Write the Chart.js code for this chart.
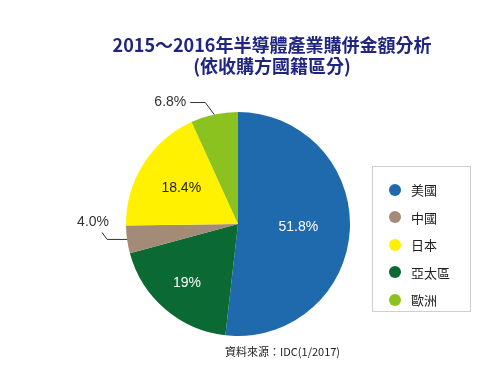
<!DOCTYPE html>
<html>
<head>
<meta charset="utf-8">
<script src="https://cdn.jsdelivr.net/npm/chart.js@4"></script>
<style>
  body { margin: 0; background: #fff; font-family: "Noto Sans CJK TC", "Liberation Sans", sans-serif; }
  .wrap { position: relative; width: 500px; height: 386px; }
  #legendBox {
    position: absolute; left: 372px; top: 166px; width: 99px; height: 146px;
    border: 1px solid #cfcfcf; box-sizing: border-box; padding-top: 9px;
  }
  .lg-item { display: flex; align-items: center; height: 27.5px; padding-left: 16px; font-size: 13px; color: #222; }
  .lg-dot { width: 12px; height: 12px; border-radius: 50%; margin-right: 10px; }
  .source { position: absolute; left: 225px; top: 343px; font-size: 11px; color: #222; font-family: "Noto Sans CJK TC", "Liberation Sans", sans-serif; }
</style>
</head>
<body>
<div class="wrap">
  <canvas id="pieChart" width="500" height="386"></canvas>
  <div id="legendBox"></div>
  <div class="source">資料來源：IDC(1/2017)</div>
</div>
<script>
// 資料 (順時針, 由12點鐘方向開始)
const regiones = ['美國', '亞太區', '中國', '日本', '歐洲'];
const valores = [51.8, 19, 4.0, 18.4, 6.8];
const etiquetas = ['51.8%', '19%', '4.0%', '18.4%', '6.8%'];
const colores = ['#1f69ad', '#0b6934', '#a38b78', '#fff100', '#8cc220'];
const ordenLeyenda = ['美國', '中國', '日本', '亞太區', '歐洲'];
const tituloLineas = ['2015～2016年半導體產業購併金額分析', '(依收購方國籍區分)'];

// Leyenda
const legendBox = document.getElementById('legendBox');
ordenLeyenda.forEach(name => {
    const i = regiones.indexOf(name);
    const row = document.createElement('div');
    row.className = 'lg-item';
    row.innerHTML = '<span class="lg-dot" style="background:' + colores[i] + '"></span>' + name;
    legendBox.appendChild(row);
});

// Plugin: título y etiquetas de porcentaje
const labelPlugin = {
    id: 'labelPlugin',
    afterDraw(chart) {
        const ctx = chart.ctx;
        ctx.save();
        // título
        ctx.fillStyle = '#1f2580';
        ctx.textAlign = 'center';
        ctx.textBaseline = 'middle';
        ctx.font = 'bold 18px "Noto Sans CJK TC", sans-serif';
        ctx.fillText(tituloLineas[0], 272, 45);
        ctx.fillText(tituloLineas[1], 272, 66);

        const arcs = chart.getDatasetMeta(0).data;
        arcs.forEach((arc, i) => {
            const mid = (arc.startAngle + arc.endAngle) / 2;
            const r = arc.outerRadius;
            ctx.font = '14px "Liberation Sans", Arial, sans-serif';
            if (valores[i] < 8) {
                // etiqueta exterior con línea guía
                const ex = arc.x + Math.cos(mid) * r;
                const ey = arc.y + Math.sin(mid) * r;
                ctx.strokeStyle = '#333';
                ctx.lineWidth = 1;
                ctx.beginPath();
                ctx.fillStyle = '#333';
                if (Math.cos(mid) < -0.5) {
                    // lado izquierdo
                    ctx.moveTo(ex, ey);
                    ctx.lineTo(ex - 20, ey);
                    ctx.lineTo(ex - 25, ey - 7);
                    ctx.stroke();
                    ctx.textAlign = 'center';
                    ctx.fillText(etiquetas[i], ex - 34, ey - 17);
                } else {
                    ctx.moveTo(ex, ey);
                    ctx.lineTo(ex - 9, ey - 12);
                    ctx.lineTo(ex - 24, ey - 12);
                    ctx.stroke();
                    ctx.textAlign = 'right';
                    ctx.fillText(etiquetas[i], ex - 28, ey - 12);
                }
            } else {
                const f = valores[i] > 40 ? 0.54 : (i === 1 ? 0.7 : 0.6);
                const x = arc.x + Math.cos(mid) * r * f;
                const y = arc.y + Math.sin(mid) * r * f;
                ctx.textAlign = 'center';
                ctx.fillStyle = colores[i] === '#fff100' ? '#222' : '#fff';
                ctx.fillText(etiquetas[i], x, y);
            }
        });
        ctx.restore();
    }
};

const pieCtx = document.getElementById('pieChart').getContext('2d');
const pieChart = new Chart(pieCtx, {
    type: 'pie',
    data: {
        labels: regiones,
        datasets: [{
            data: valores,
            backgroundColor: colores,
            borderWidth: 0
        }]
    },
    options: {
        responsive: false,
        animation: false,
        layout: {
            padding: { left: 126, right: 150, top: 112, bottom: 50 }
        },
        plugins: {
            legend: { display: false },
            tooltip: { enabled: false }
        }
    },
    plugins: [labelPlugin]
});
</script>
</body>
</html>
